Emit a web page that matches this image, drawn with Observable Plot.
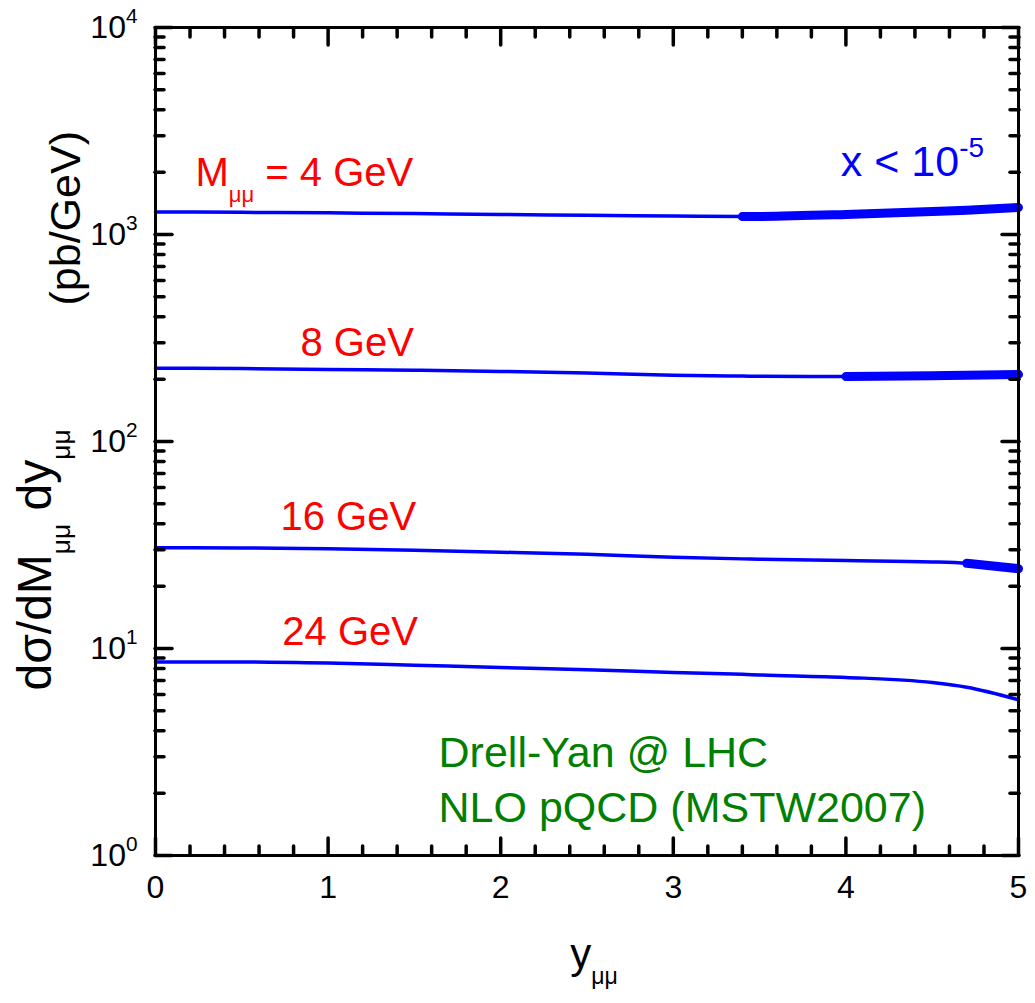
<!DOCTYPE html>
<html><head><meta charset="utf-8">
<script src="https://cdn.jsdelivr.net/npm/d3@7"></script>
<script src="https://cdn.jsdelivr.net/npm/@observablehq/plot@0.6"></script>
<style>
body{margin:0;background:#fff}
svg{font-family:"Liberation Sans",Arial,sans-serif}
</style>
</head><body><div id="chart"></div>
<script>
// ---- data ----
const rapidity = [0, 0.5, 1, 1.5, 2, 2.5, 3, 3.4, 3.5, 4, 4.5, 4.7, 5];
const masses = [4, 8, 16, 24];
const xsec4  = [1285, 1280, 1272, 1262, 1250, 1238, 1228, 1220, 1222, 1250, 1290, 1310, 1350];
const xsec8  = [226, 225, 223, 221, 218, 214, 209, 207, 206.5, 206, 208, 209, 211];
const xsec16 = [30.7, 30.6, 30.3, 29.8, 29.2, 28.5, 27.6, 27.1, 27.0, 26.6, 26.2, 25.8, 24.3];
const xsec24 = [8.6, 8.6, 8.5, 8.3, 8.1, 7.9, 7.65, 7.5, 7.45, 7.25, 6.85, 6.5, 5.65];
const smallXFrom = [3.4, 4.0, 4.7, null]; // rapidity where the x < 1e-5 region (thick band) begins
const massLabels = ["M_{μμ} = 4 GeV", "8 GeV", "16 GeV", "24 GeV"];
const massLabelX = [0.232, 0.84, 0.724, 0.735];
const massLabelY = [1718, 258, 37.5, 10.4];
const regimeLabel = "x < 10^{-5}";
const regimeX = 4.8, regimeY = 1919;
const noteLines = ["Drell-Yan @ LHC", "NLO pQCD (MSTW2007)"];
const noteX = 1.64, noteY = [2.67, 1.445];
const yMajor = [1, 10, 100, 1000, 10000];
const yTickLabels = ["10^{0}", "10^{1}", "10^{2}", "10^{3}", "10^{4}"];
const xMajor = [0, 1, 2, 3, 4, 5];
const xTickLabels = ["0", "1", "2", "3", "4", "5"];
const xTitle = "y_{μμ}";
const yTitleMain = "dσ/dM_{μμ} dy_{μμ}";
const yTitleUnit = "(pb/GeV)";

// ---- derived tables ----
const series = [xsec4, xsec8, xsec16, xsec24];
const rows = [];
masses.forEach((m, k) => rapidity.forEach((y, i) => rows.push({mass: m, y, sigma: series[k][i], thick: smallXFrom[k] != null && y >= smallXFrom[k] - 1e-9})));
const yMinor = [];
for (let e = 0; e < 4; e++) for (let j = 2; j <= 9; j++) yMinor.push(j * 10 ** e);
const xMinor = d3.range(0, 26).map(i => +(i * 0.2).toFixed(1)).filter(v => !xMajor.includes(v));
const labels = masses.map((m, k) => ({t: massLabels[k], x: massLabelX[k], y: massLabelY[k]}));
const notes = noteLines.map((t, i) => ({t, x: noteX, y: noteY[i]}));

const blue = "#0000ff", red = "#ff0000", green = "#008000";
const tickStyle = {stroke: "black", strokeWidth: 3.5, strokeLinecap: "round", fill: "none", label: null};
const font = "Liberation Sans, Arial, sans-serif";

const chart = Plot.plot({
  width: 1035, height: 1003,
  marginLeft: 155, marginRight: 17, marginTop: 27, marginBottom: 148,
  style: {fontFamily: font, background: "white"},
  x: {domain: [0, 5]},
  y: {type: "log", domain: [1, 10000]},
  marks: [
    // curves
    Plot.line(rows, {x: "y", y: "sigma", z: "mass", stroke: blue, strokeWidth: 3.5, curve: "monotone-x"}),
    Plot.line(rows.filter(d => d.thick), {x: "y", y: "sigma", z: "mass", stroke: blue, strokeWidth: 9, strokeLinecap: "round", curve: "monotone-x"}),
    // ticks (inward) on all four sides
    Plot.axisY({anchor: "left", ticks: yMajor, tickSize: -17, ...tickStyle}),
    Plot.axisY({anchor: "left", ticks: yMinor, tickSize: -9, ...tickStyle}),
    Plot.axisY({anchor: "right", ticks: yMajor, tickSize: -17, ...tickStyle}),
    Plot.axisY({anchor: "right", ticks: yMinor, tickSize: -9, ...tickStyle}),
    Plot.axisX({anchor: "bottom", ticks: xMajor, tickSize: -17, ...tickStyle}),
    Plot.axisX({anchor: "bottom", ticks: xMinor, tickSize: -9, ...tickStyle}),
    Plot.axisX({anchor: "top", ticks: xMajor, tickSize: -17, ...tickStyle}),
    Plot.axisX({anchor: "top", ticks: xMinor, tickSize: -9, ...tickStyle}),
    // tick labels
    Plot.axisY({anchor: "left", ticks: yMajor, tickSize: 0, tickPadding: 18, fontSize: 32, fill: "black", label: null,
      tickFormat: d => yTickLabels[yMajor.indexOf(d)]}),
    Plot.axisX({anchor: "bottom", ticks: xMajor, tickSize: 0, tickPadding: 20, fontSize: 32, fill: "black", label: null,
      tickFormat: d => xTickLabels[xMajor.indexOf(d)]}),
    Plot.frame({stroke: "black", strokeWidth: 3}),
    // annotations
    Plot.text(labels, {x: "x", y: "y", text: "t", fill: red, fontSize: 40, textAnchor: "start", lineAnchor: "bottom", fontFamily: font}),
    Plot.text([regimeLabel], {x: regimeX, y: regimeY, text: d => d, fill: blue, fontSize: 43, textAnchor: "end", lineAnchor: "bottom", fontFamily: font}),
    Plot.text(notes, {x: "x", y: "y", text: "t", fill: green, fontSize: 43, textAnchor: "start", lineAnchor: "bottom", fontFamily: font}),
    // axis titles
    Plot.text([xTitle], {frameAnchor: "bottom", text: d => d, dy: 112, dx: 7, lineAnchor: "bottom", fontSize: 42, fill: "black", fontFamily: font}),
    Plot.text([yTitleMain], {frameAnchor: "bottom-left", text: d => d, rotate: -90, textAnchor: "start", dx: -105, dy: -165, fontSize: 48, fill: "black", fontFamily: font}),
    Plot.text([yTitleUnit], {frameAnchor: "top-left", text: d => d, rotate: -90, textAnchor: "start", dx: -106, dy: 278, fontSize: 43, fill: "black", fontFamily: font})
  ]
});
document.getElementById("chart").appendChild(chart);

// rich text: _{...} subscript, ^{...} superscript
function richify(el) {
  const s = el.textContent;
  if (!/[_^]\{/.test(s)) return;
  const fs = parseFloat(getComputedStyle(el).fontSize);
  const parts = [];
  const re = /([_^])\{([^}]*)\}/g;
  let last = 0, m;
  while ((m = re.exec(s))) {
    if (m.index > last) parts.push({t: s.slice(last, m.index)});
    parts.push({t: m[2], k: m[1]});
    last = re.lastIndex;
  }
  if (last < s.length) parts.push({t: s.slice(last)});
  el.textContent = "";
  let cur = 0;
  for (const p of parts) {
    const ts = document.createElementNS("http://www.w3.org/2000/svg", "tspan");
    let target = 0;
    if (p.k === "_") { target = 0.4 * fs; ts.setAttribute("font-size", 0.55 * fs); }
    else if (p.k === "^") { target = -0.45 * fs; ts.setAttribute("font-size", 0.65 * fs); }
    if (target - cur !== 0) ts.setAttribute("dy", target - cur);
    cur = target;
    ts.textContent = p.t;
    el.appendChild(ts);
  }
}
chart.querySelectorAll("text").forEach(richify);
</script>
</body></html>
